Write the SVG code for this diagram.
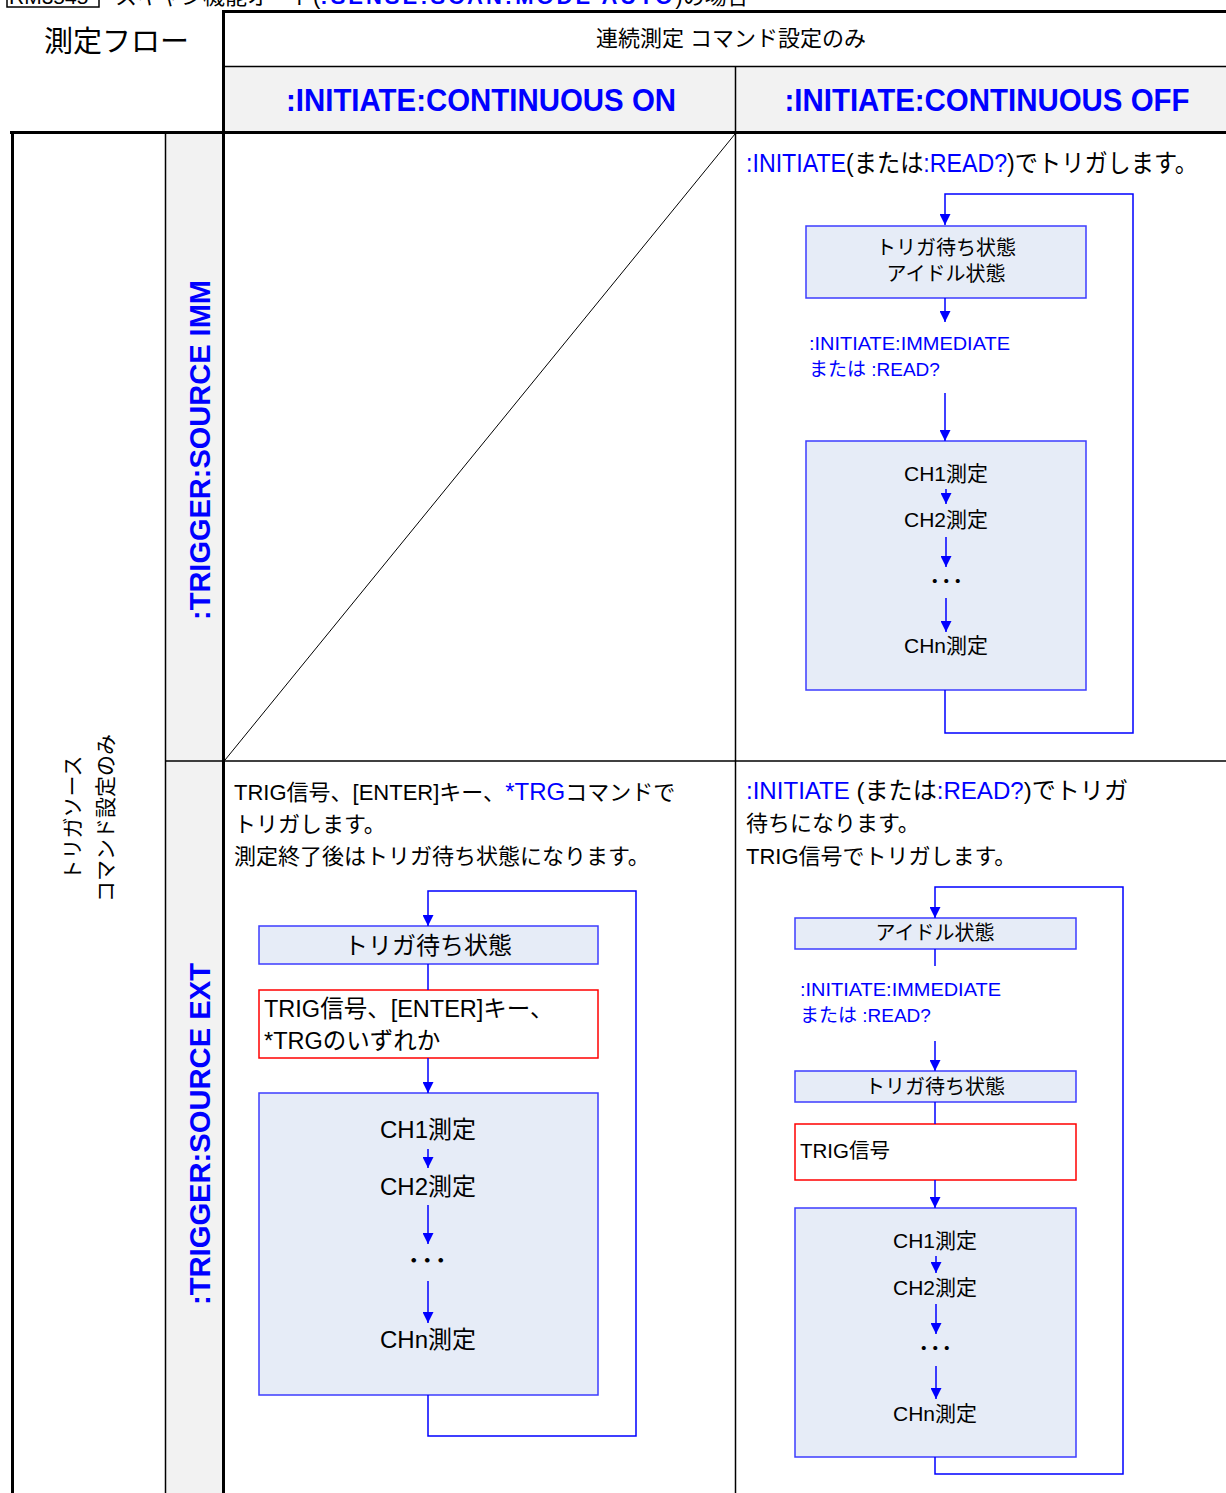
<svg xmlns="http://www.w3.org/2000/svg" width="1226" height="1493" viewBox="0 0 1226 1493">
<style>
text{font-family:"Liberation Sans","Noto Sans CJK JP",sans-serif;fill:#000}
.bl{fill:#0000ff}
.bb{fill:#0000ff;font-weight:bold}
.thick{stroke:#000;stroke-width:3;fill:none}
.thin{stroke:#000;stroke-width:1.5;fill:none}
.flow{stroke:#0000ff;stroke-width:1.5;fill:none}
.arr{stroke:#0000ff;stroke-width:1.5;fill:none;marker-end:url(#ah)}
.box{fill:#e6ecf7;stroke:#3c3cff;stroke-width:1.5}
.rbox{fill:#ffffff;stroke:#ff0000;stroke-width:1.5}
.gray{fill:#f2f2f2}
.dots{font-weight:bold}
</style>
<defs>
<marker id="ah" viewBox="0 0 11 11" refX="11" refY="5.5" markerWidth="11" markerHeight="11" markerUnits="userSpaceOnUse" orient="auto">
<path d="M0,0 L11,5.5 L0,11 z" fill="#0000ff"/>
</marker>
</defs>
<rect width="1226" height="1493" fill="#ffffff"/>

<g id="page-title">
<rect x="7" y="-20" width="92" height="27" fill="none" stroke="#000" stroke-width="1.5"/>
<text x="9" y="4" font-size="21">RM3545</text>
<text x="115" y="4" font-size="22">スキャン機能オート(<tspan class="bb" textLength="352">:SENSE:SCAN:MODE AUTO</tspan>)の場合</text>
</g>

<g id="table">
<rect class="gray" x="225" y="67" width="1001" height="64"/>
<rect class="gray" x="166" y="134" width="56" height="1359"/>
<line class="thick" x1="222" y1="11.5" x2="1226" y2="11.5"/>
<line class="thick" x1="223.5" y1="10" x2="223.5" y2="1493"/>
<line class="thin" x1="223" y1="66.5" x2="1226" y2="66.5"/>
<line class="thin" x1="735.5" y1="67" x2="735.5" y2="1493"/>
<line class="thick" x1="10" y1="132.5" x2="1226" y2="132.5"/>
<line class="thick" x1="12.5" y1="131" x2="12.5" y2="1493"/>
<line class="thin" x1="165.5" y1="133" x2="165.5" y2="1493"/>
<line class="thin" x1="165" y1="761" x2="1226" y2="761"/>
<line stroke="#000" stroke-width="1" x1="225" y1="760" x2="735" y2="134"/>
</g>

<g id="headers">
<text x="44" y="52" font-size="29">測定フロー</text>
<text x="731" y="46" font-size="22" text-anchor="middle">連続測定 コマンド設定のみ</text>
<text class="bb" x="481" y="111" font-size="32" text-anchor="middle" textLength="390" lengthAdjust="spacingAndGlyphs">:INITIATE:CONTINUOUS ON</text>
<text class="bb" x="987" y="111" font-size="32" text-anchor="middle" textLength="405" lengthAdjust="spacingAndGlyphs">:INITIATE:CONTINUOUS OFF</text>
<text transform="translate(210,450) rotate(-90)" class="bb" font-size="30" text-anchor="middle" textLength="340" lengthAdjust="spacingAndGlyphs">:TRIGGER:SOURCE IMM</text>
<text transform="translate(210,1134) rotate(-90)" class="bb" font-size="30" text-anchor="middle" textLength="342" lengthAdjust="spacingAndGlyphs">:TRIGGER:SOURCE EXT</text>
<text transform="translate(80,818) rotate(-90)" font-size="21" text-anchor="middle">トリガソース</text>
<text transform="translate(113,818) rotate(-90)" font-size="21" text-anchor="middle">コマンド設定のみ</text>
</g>

<g id="desc-imm-off">
<text x="746" y="172" font-size="25" textLength="452" lengthAdjust="spacingAndGlyphs"><tspan class="bl">:INITIATE</tspan>(または<tspan class="bl">:READ?</tspan>)でトリガします。</text>
</g>
<g id="desc-ext-on">
<text x="234" y="800" font-size="22">TRIG信号、[ENTER]キー、<tspan class="bl" font-size="24">*TRG</tspan>コマンドで</text>
<text x="234" y="832" font-size="22">トリガします。</text>
<text x="234" y="864" font-size="22">測定終了後はトリガ待ち状態になります。</text>
</g>
<g id="desc-ext-off">
<text x="746" y="799" font-size="24" textLength="382" lengthAdjust="spacingAndGlyphs"><tspan class="bl">:INITIATE</tspan> (または<tspan class="bl">:READ?</tspan>)でトリガ</text>
<text x="746" y="831" font-size="22">待ちになります。</text>
<text x="746" y="864" font-size="22">TRIG信号でトリガします。</text>
</g>

<g id="imm-off-wait">
<rect class="box" x="806" y="226" width="280" height="72"/>
<text x="946" y="255" font-size="20" text-anchor="middle">トリガ待ち状態</text>
<text x="946" y="281" font-size="20" text-anchor="middle">アイドル状態</text>
</g>
<g id="imm-off-cmd">
<text class="bl" x="809" y="350" font-size="19" textLength="201" lengthAdjust="spacingAndGlyphs">:INITIATE:IMMEDIATE</text>
<text class="bl" x="809" y="376" font-size="19">または :READ?</text>
</g>
<g id="imm-off-measure">
<rect class="box" x="806" y="441" width="280" height="249"/>
<text x="946" y="481" font-size="21" text-anchor="middle">CH1測定</text>
<text x="946" y="527" font-size="21" text-anchor="middle">CH2測定</text>
<text class="dots" x="944" y="587" font-size="16" letter-spacing="-4.5" text-anchor="middle">・・・</text>
<text x="946" y="653" font-size="21" text-anchor="middle">CHn測定</text>
</g>

<g id="ext-on-wait">
<rect class="box" x="259" y="926" width="339" height="38"/>
<text x="428" y="954" font-size="24" text-anchor="middle">トリガ待ち状態</text>
</g>
<g id="ext-on-trigger">
<rect class="rbox" x="259" y="990" width="339" height="68"/>
<text x="264" y="1017" font-size="23.5">TRIG信号、[ENTER]キー、</text>
<text x="264" y="1049" font-size="23.5">*TRGのいずれか</text>
</g>
<g id="ext-on-measure">
<rect class="box" x="259" y="1093" width="339" height="302"/>
<text x="428" y="1138" font-size="24" text-anchor="middle">CH1測定</text>
<text x="428" y="1195" font-size="24" text-anchor="middle">CH2測定</text>
<text class="dots" x="425" y="1267" font-size="18" letter-spacing="-4.5" text-anchor="middle">・・・</text>
<text x="428" y="1348" font-size="24" text-anchor="middle">CHn測定</text>
</g>

<g id="ext-off-idle">
<rect class="box" x="795" y="918" width="281" height="31"/>
<text x="935" y="940" font-size="20" text-anchor="middle">アイドル状態</text>
</g>
<g id="ext-off-cmd">
<text class="bl" x="800" y="996" font-size="19" textLength="201" lengthAdjust="spacingAndGlyphs">:INITIATE:IMMEDIATE</text>
<text class="bl" x="800" y="1022" font-size="19">または :READ?</text>
</g>
<g id="ext-off-wait">
<rect class="box" x="795" y="1071" width="281" height="31"/>
<text x="935" y="1094" font-size="20" text-anchor="middle">トリガ待ち状態</text>
</g>
<g id="ext-off-trigger">
<rect class="rbox" x="795" y="1124" width="281" height="56"/>
<text x="800" y="1158" font-size="20.5">TRIG信号</text>
</g>
<g id="ext-off-measure">
<rect class="box" x="795" y="1208" width="281" height="249"/>
<text x="935" y="1248" font-size="21" text-anchor="middle">CH1測定</text>
<text x="935" y="1295" font-size="21" text-anchor="middle">CH2測定</text>
<text class="dots" x="933" y="1354" font-size="16" letter-spacing="-4.5" text-anchor="middle">・・・</text>
<text x="935" y="1421" font-size="21" text-anchor="middle">CHn測定</text>
</g>

<g id="connectors">
<path class="arr" d="M945,690 V733 H1133 V194 H945 V225"/>
<path class="arr" d="M945,298 V322"/>
<path class="arr" d="M945,393 V441"/>
<path class="arr" d="M946,489 V504"/>
<path class="arr" d="M946,537 V567"/>
<path class="arr" d="M946,598 V632"/>

<path class="arr" d="M428,1395 V1436 H636 V891 H428 V926"/>
<path class="flow" d="M428,964 V990"/>
<path class="arr" d="M428,1058 V1093"/>
<path class="arr" d="M428,1149 V1168"/>
<path class="arr" d="M428,1205 V1244"/>
<path class="arr" d="M428,1281 V1323"/>

<path class="arr" d="M935,1457 V1474 H1123 V887 H935 V918"/>
<path class="flow" d="M935,949 V966"/>
<path class="arr" d="M935,1041 V1071"/>
<path class="flow" d="M935,1102 V1124"/>
<path class="arr" d="M935,1180 V1208"/>
<path class="arr" d="M936,1256 V1273"/>
<path class="arr" d="M936,1304 V1334"/>
<path class="arr" d="M936,1366 V1399"/>
</g>
</svg>
